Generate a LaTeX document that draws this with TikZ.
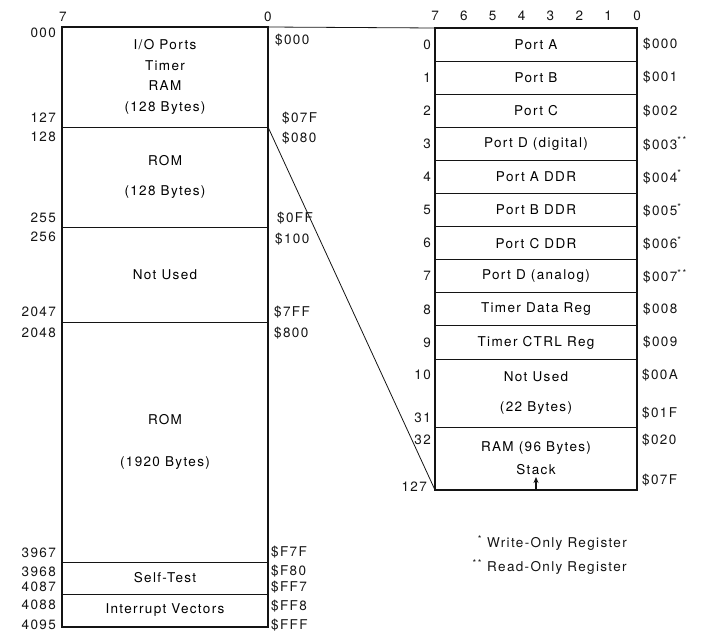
\documentclass[tikz,border=0pt]{standalone}
\usepackage{fontspec}
\setmainfont{TeX Gyre Heros}[LetterSpace=10]
\usepackage{tikz}
\usetikzlibrary{arrows.meta, positioning, calc}
\definecolor{mydark}{RGB}{20,20,20}
\newcommand{\mapfont}{\fontsize{13.5}{16}\selectfont}
\tikzset{
  region/.style={rectangle, draw=mydark, minimum width=206pt,
    inner sep=0pt, outer sep=0pt, align=center, font=\mapfont, line width=1pt},
  regrow/.style={rectangle, draw=mydark, minimum width=202pt, minimum height=33.1pt,
    inner sep=0pt, outer sep=0pt, align=center, font=\mapfont, line width=1pt},
  addr/.style={font=\mapfont, inner sep=0pt, text=mydark},
  frame/.style={draw=mydark, line width=1.8pt},
  link/.style={draw=mydark, line width=0.8pt}
}

\begin{document}
\begin{tikzpicture}[x=1pt, y=-1pt]
  \useasboundingbox (0,0) rectangle (702,637);

  % Full memory map
  \node[region, minimum height=100pt, font=\fontsize{13.5}{20.5}\selectfont] (iomap) at (165,77) {I/O Ports\\Timer\\RAM\\(128 Bytes)};
  \node[region, minimum height=100pt, below=0pt of iomap] (rom1) {ROM\\[14pt](128 Bytes)};
  \node[region, minimum height=95pt, below=0pt of rom1] (unused1) {Not Used};
  \node[region, minimum height=240pt, below=0pt of unused1] (rom2) {ROM\\[26pt](1920 Bytes)};
  \node[region, minimum height=32pt, below=0pt of rom2] (selftest) {Self-Test};
  \node[region, minimum height=33pt, below=0pt of selftest] (vectors) {Interrupt Vectors};
  \draw[frame] (iomap.north west) rectangle (vectors.south east);

  % Bit numbers
  \node[addr] (lbit7) at (63,17) {7};
  \node[addr] (lbit0) at (268,17) {0};

  % Decimal addresses
  \node[addr, anchor=east] (d000) at (56,33) {000};
  \node[addr, anchor=east] (d127) at (56,118) {127};
  \node[addr, anchor=east] (d128) at (56,137) {128};
  \node[addr, anchor=east] (d255) at (56,218) {255};
  \node[addr, anchor=east] (d256) at (56,237) {256};
  \node[addr, anchor=east] (d2047) at (56,312) {2047};
  \node[addr, anchor=east] (d2048) at (56,333) {2048};
  \node[addr, anchor=east] (d3967) at (56,553) {3967};
  \node[addr, anchor=east] (d3968) at (56,572) {3968};
  \node[addr, anchor=east] (d4087) at (56,587) {4087};
  \node[addr, anchor=east] (d4088) at (56,605) {4088};
  \node[addr, anchor=east] (d4095) at (56,625) {4095};

  % Hex addresses
  \node[addr, anchor=west] (h000) at (275,40) {\$000};
  \node[addr, anchor=west] (h07F) at (282,118) {\$07F};
  \node[addr, anchor=west] (h080) at (282,138) {\$080};
  \node[addr, anchor=west] (h0FF) at (277,218) {\$0FF};
  \node[addr, anchor=west] (h100) at (275,239) {\$100};
  \node[addr, anchor=west] (h7FF) at (274,312) {\$7FF};
  \node[addr, anchor=west] (h800) at (274,333) {\$800};
  \node[addr, anchor=west] (hF7F) at (271,552) {\$F7F};
  \node[addr, anchor=west] (hF80) at (271,571) {\$F80};
  \node[addr, anchor=west] (hFF7) at (271,587) {\$FF7};
  \node[addr, anchor=west] (hFF8) at (271,606) {\$FF8};
  \node[addr, anchor=west] (hFFF) at (271,625) {\$FFF};

  % Page zero detail
  \node[regrow] (porta) at (536,44.55) {Port A};
  \node[regrow, below=0pt of porta] (portb) {Port B};
  \node[regrow, below=0pt of portb] (portc) {Port C};
  \node[regrow, below=0pt of portc] (portdd) {Port D (digital)};
  \node[regrow, below=0pt of portdd] (addr) {Port A DDR};
  \node[regrow, below=0pt of addr] (bddr) {Port B DDR};
  \node[regrow, below=0pt of bddr] (cddr) {Port C DDR};
  \node[regrow, below=0pt of cddr] (portda) {Port D (analog)};
  \node[regrow, below=0pt of portda] (tdata) {Timer Data Reg};
  \node[regrow, below=0pt of tdata] (tctrl) {Timer CTRL Reg};
  \node[regrow, minimum height=68pt, below=0pt of tctrl] (unused2) {Not Used\\[14pt](22 Bytes)};
  \node[regrow, minimum height=63pt, below=0pt of unused2] (ram) {RAM (96 Bytes)\\[7pt]Stack};
  \draw[frame] (porta.north west) rectangle (ram.south east);

  % Stack pointer
  \coordinate (stacktip) at ($(ram.south)+(0,-13)$);
  \draw[-{Stealth[length=6pt, width=5pt]}, line width=1.2pt, mydark] (ram.south) -- (stacktip);

  % Bit numbers
  \foreach \b [count=\i from 0] in {7,6,5,4,3,2,1,0}
    \node[addr] (rbit\b) at (435+\i*28.86,16) {\b};

  % Register offsets
  \node[addr, left=4pt of porta] (n0) {0};
  \node[addr, left=4pt of portb] (n1) {1};
  \node[addr, left=4pt of portc] (n2) {2};
  \node[addr, left=4pt of portdd] (n3) {3};
  \node[addr, left=4pt of addr] (n4) {4};
  \node[addr, left=4pt of bddr] (n5) {5};
  \node[addr, left=4pt of cddr] (n6) {6};
  \node[addr, left=4pt of portda] (n7) {7};
  \node[addr, left=4pt of tdata] (n8) {8};
  \node[addr, left=4pt of tctrl] (n9) {9};
  \node[addr, anchor=east] (n10) at (431,375) {10};
  \node[addr, anchor=east] (n31) at (431,418) {31};
  \node[addr, anchor=east] (n32) at (431,440) {32};
  \node[addr, anchor=east] (n127) at (427,487) {127};

  % Register addresses
  \node[addr, right=6pt of porta] (r000) {\$000};
  \node[addr, right=6pt of portb] (r001) {\$001};
  \node[addr, right=6pt of portc] (r002) {\$002};
  \node[addr, right=6pt of portdd] (r003) {\$003\textsuperscript{*\,*}};
  \node[addr, right=6pt of addr] (r004) {\$004\textsuperscript{*}};
  \node[addr, right=6pt of bddr] (r005) {\$005\textsuperscript{*}};
  \node[addr, right=6pt of cddr] (r006) {\$006\textsuperscript{*}};
  \node[addr, right=6pt of portda] (r007) {\$007\textsuperscript{*\,*}};
  \node[addr, right=6pt of tdata] (r008) {\$008};
  \node[addr, right=6pt of tctrl] (r009) {\$009};
  \node[addr, anchor=west] (r00A) at (642,375) {\$00A};
  \node[addr, anchor=west] (r01F) at (642,413) {\$01F};
  \node[addr, anchor=west] (r020) at (642,440) {\$020};
  \node[addr, anchor=west] (r07F) at (642,480) {\$07F};

  % Expansion lines
  \draw[link] (iomap.north east) -- (porta.north west);
  \draw[link] (iomap.south east) -- (ram.south west);

  % Legend
  \node[addr, anchor=west] (wonly) at (487,543) {\llap{\textsuperscript{*}\ }Write-Only Register};
  \node[addr, anchor=west] (ronly) at (487,567) {\llap{\textsuperscript{*\,*}\ }Read-Only Register};
\end{tikzpicture}
\end{document}
